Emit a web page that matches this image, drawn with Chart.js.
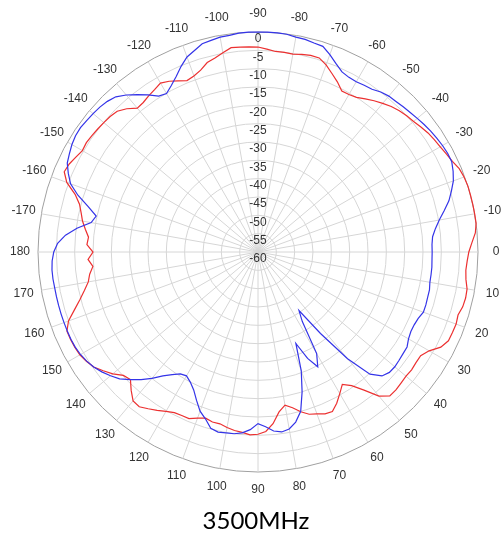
<!DOCTYPE html>
<html>
<head>
<meta charset="utf-8">
<script src="https://cdn.jsdelivr.net/npm/chart.js@4.4.1/dist/chart.umd.min.js"></script>
<style>
  html, body { margin: 0; padding: 0; background: #ffffff; }
  body { width: 502px; height: 540px; overflow: hidden; position: relative; }
  #c { position: absolute; left: 0; top: 0; }
  #cap { position: absolute; left: 0; top: 504px; width: 512px; text-align: center;
         font-family: Lato, "Open Sans", sans-serif; font-size: 24px; line-height: 32px; color: #000; }
</style>
</head>
<body>
<canvas id="c" width="502" height="505"></canvas>
<div id="cap">3500MHz</div>
<script>
// Angle categories: 2.5 degree steps, starting at -90 (top) and running clockwise
const angleStep = 2.5;
const angles = Array.from({ length: 144 }, (_, i) => {
  let a = -90 + angleStep * i;
  if (a > 180) a -= 360;
  return a;
});

// Radial tick labels (dB)
const ringTicks = [0, -5, -10, -15, -20, -25, -30, -35, -40, -45, -50, -55, -60];

// Red trace (dB), same order as angles
const redValues = [
  -4.1, -4.6, -5.1, -5.1, -5.2, -4.8, -4.5, -4.5, -5.7, -7.3,
  -8.8, -10.5, -10.4, -10.0, -9.0, -8.0, -7.1, -6.2, -5.5, -5.0,
  -4.6, -4.0, -3.4, -3.0, -2.6, -2.1, -1.5, -0.6, -0.2, 0,
  0, 0, 0, 0, -0.5, -1.6, -2.5, -2.9, -3.1, -2.8,
  -2.1, -2.0, -2.2, -2.8, -2.5, -2.6, -2.7, -3.8, -6.1, -7.4,
  -7.4, -7.2, -7.3, -7.1, -6.8, -6.8, -8.7, -12.5, -15.5, -17.2,
  -15.4, -13.5, -12.0, -12.2, -13.0, -13.6, -14.9, -16.5, -17.6, -16.0,
  -13.0, -11.0, -10.3, -10.1, -10.6, -10.9, -11.4, -12.0, -12.0, -12.5,
  -11.8, -10.8, -10.8, -10.6, -9.8, -8.8, -7.8, -6.8, -7.0, -8.8,
  -10.8, -10.2, -8.3, -6.8, -5.3, -4.5, -3.9, -3.7, -3.6, -3.6,
  -5.0, -7.5, -9.7, -11.5, -13.0, -13.7, -14.8, -13.6, -15.0, -13.3,
  -13.6, -12.5, -11.4, -10.6, -9.6, -7.7, -4.5, -2.8, -3.2, -4.0,
  -4.7, -4.5, -4.7, -4.9, -5.1, -5.3, -5.7, -7.0, -8.8, -8.6,
  -8.0, -7.5, -6.8, -7.5, -8.5, -9.4, -8.9, -8.0, -6.5, -5.8,
  -4.8, -3.8, -3.9, -4.0
];

// Blue trace (dB), same order as angles
const blueValues = [
  0, 0, 0, -0.1, -0.5, -0.6, -1.0, -1.2, -2.7, -4.4,
  -5.8, -6.3, -6.4, -6.1, -5.8, -5.0, -4.5, -4.3, -4.0, -3.7,
  -3.3, -2.9, -2.5, -2.2, -1.9, -1.7, -1.7, -2.4, -3.3, -4.7,
  -6.1, -8.0, -9.8, -11.2, -12.2, -12.5, -12.5, -12.5, -12.4, -12.4,
  -12.4, -12.1, -12.1, -12.0, -12.0, -12.7, -13.0, -13.0, -12.6, -11.8,
  -11.7, -11.5, -11.3, -11.4, -12.2, -14.8, -22.0, -32.0, -40.5, -37.5,
  -28.0, -24.7, -28.0, -33.0, -25.5, -20.0, -15.0, -12.5, -11.0, -10.5,
  -11.0, -12.3, -13.2, -11.5, -10.5, -10.0, -9.9, -9.7, -10.2, -12.3,
  -13.8, -16.2, -18.5, -20.0, -21.0, -20.6, -19.2, -17.4, -15.0, -12.8,
  -10.8, -8.8, -7.5, -6.3, -5.3, -4.6, -4.1, -3.8, -3.7, -3.7,
  -3.7, -3.7, -3.7, -3.7, -3.7, -3.6, -3.6, -3.8, -4.3, -5.3,
  -7.3, -10.2, -13.8, -14.8, -12.0, -8.5, -5.6, -4.0, -2.6, -2.0,
  -1.4, -1.0, -0.9, -1.1, -1.3, -1.5, -1.9, -2.6, -4.1, -5.9,
  -7.7, -9.6, -10.1, -8.8, -7.2, -5.2, -3.4, -2.4, -1.2, -0.9,
  -0.5, -0.4, -0.1, 0
];

const labelFont = '12px "Liberation Sans", Arial, sans-serif';

const polarLabels = {
  id: 'polarLabels',
  beforeDatasetsDraw(chart) {
    const s = chart.scales.r;
    const ctx = chart.ctx;
    ctx.save();
    ctx.font = labelFont;
    ctx.fillStyle = '#333333';
    ctx.textAlign = 'center';
    ctx.textBaseline = 'middle';
    angles.forEach((a, i) => {
      if (a % 10 === 0) {
        const p = s.getPointPosition(i, s.drawingArea + 18);
        ctx.fillText(String(a), p.x, p.y);
      }
    });
    ringTicks.forEach(v => {
      const d = s.getDistanceFromCenterForValue(v);
      ctx.fillText(String(v), s.xCenter, s.yCenter - d + 7);
    });
    ctx.restore();
  }
};

new Chart(document.getElementById('c'), {
  type: 'radar',
  data: {
    labels: angles,
    datasets: [
      {
        label: 'Blue',
        data: blueValues,
        borderColor: 'rgb(52,52,232)',
        borderWidth: 1.2,
        pointRadius: 0,
        fill: false,
        tension: 0
      },
      {
        label: 'Red',
        data: redValues,
        borderColor: 'rgb(236,48,48)',
        borderWidth: 1.2,
        pointRadius: 0,
        fill: false,
        tension: 0
      }
    ]
  },
  options: {
    responsive: false,
    animation: false,
    layout: { padding: { left: 38, top: 32, right: 24, bottom: 33 } },
    plugins: { legend: { display: false }, tooltip: { enabled: false } },
    scales: {
      r: {
        min: -60,
        max: 0,
        startAngle: 0,
        ticks: { display: false, stepSize: 5 },
        grid: {
          circular: true,
          color: c => (c.index === 12 ? '#a0a0a0' : '#d6d6d6'),
          lineWidth: 1
        },
        angleLines: {
          color: '#d6d6d6',
          lineWidth: c => (angles[c.index] % 10 === 0 ? 1 : 0)
        },
        pointLabels: { display: false }
      }
    }
  },
  plugins: [polarLabels]
});
</script>
</body>
</html>
